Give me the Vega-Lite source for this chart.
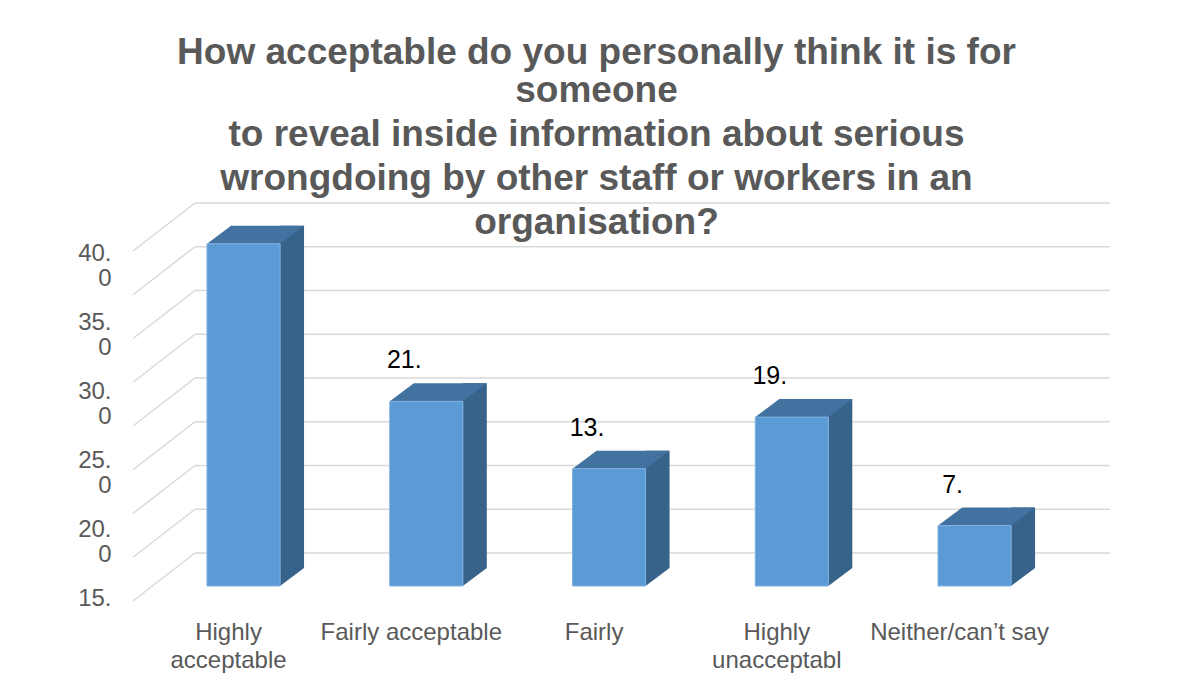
{
  "$schema": "https://vega.github.io/schema/vega-lite/v6.json",
  "width": 977,
  "height": 428,
  "autosize": {"type": "none"},
  "padding": {"left": 133, "top": 186, "right": 69, "bottom": 77},
  "background": "white",
  "config": {"view": {"stroke": null}, "font": "Liberation Sans"},
  "title": {
    "text": ["How acceptable do you personally think it is for", "someone"],
    "subtitle": ["to reveal inside information about serious", "wrongdoing by other staff or workers in an", "organisation?"],
    "anchor": "middle",
    "frame": "group",
    "offset": -56,
    "dx": -25,
    "font": "Liberation Sans",
    "fontSize": 37,
    "fontWeight": "bold",
    "color": "#595959",
    "lineHeight": 38,
    "subtitleFont": "Liberation Sans",
    "subtitleFontSize": 37,
    "subtitleFontWeight": "bold",
    "subtitleColor": "#595959",
    "subtitleLineHeight": 44,
    "subtitlePadding": 7
  },
  "datasets": {
    "bars": [
      {"category": "Highly acceptable", "value": 39.1, "label": ""},
      {"category": "Fairly acceptable", "value": 21.1, "label": "21."},
      {"category": "Fairly", "value": 13.4, "label": "13."},
      {"category": "Highly unacceptabl", "value": 19.3, "label": "19."},
      {"category": "Neither/can’t say", "value": 6.9, "label": "7."}
    ],
    "grid": [{"t": 0}, {"t": 5}, {"t": 10}, {"t": 15}, {"t": 20}, {"t": 25}, {"t": 30}, {"t": 35}, {"t": 40}],
    "ylab": [{"t": 40}, {"t": 35}, {"t": 30}, {"t": 25}, {"t": 20}, {"t": 15}]
  },
  "layer": [
    {
      "data": {"name": "grid"},
      "layer": [
        {
          "mark": {"type": "rule", "color": "#D9D9D9", "strokeWidth": 1.5},
          "encoding": {
            "y": {"field": "t", "type": "quantitative", "scale": {"domain": [-6.971, 41.943], "nice": false, "zero": false}, "axis": null},
            "x": {"value": 62},
            "x2": {"value": 977}
          }
        },
        {
          "mark": {"type": "rule", "color": "#D9D9D9", "strokeWidth": 1.5, "yOffset": 48},
          "encoding": {
            "y": {"field": "t", "type": "quantitative", "scale": {"domain": [-6.971, 41.943], "nice": false, "zero": false}, "axis": null},
            "y2": {"field": "t"},
            "x": {"value": 0},
            "x2": {"value": 62}
          }
        }
      ]
    },
    {
      "data": {"name": "ylab"},
      "mark": {"type": "point", "opacity": 0, "size": 0},
      "encoding": {
        "y": {
          "field": "t",
          "type": "quantitative",
          "scale": {"domain": [13.841, 44.855], "nice": false, "zero": false},
          "axis": {
            "orient": "left",
            "title": null,
            "values": [40, 35, 30, 25, 20, 15],
            "labelExpr": "datum.value == 15 ? '15.' : [toString(datum.value) + '.', '0']",
            "labelFontSize": 24,
            "labelColor": "#595959",
            "labelLineHeight": 25,
            "labelPadding": 22,
            "ticks": false,
            "tickSize": 0,
            "domain": false,
            "grid": false,
            "labelBaseline": "middle",
            "labelAlign": "right"
          }
        }
      }
    },
    {
      "data": {"name": "bars"},
      "encoding": {
        "x": {
          "field": "category",
          "type": "nominal",
          "sort": null,
          "scale": {"paddingInner": 0.6, "paddingOuter": 0.473, "align": 0.428},
          "axis": {
            "title": null,
            "labelExpr": "indexof(datum.label, 'Highly ') == 0 ? split(datum.label, ' ') : datum.label",
            "labelFontSize": 24,
            "labelColor": "#595959",
            "labelLineHeight": 28,
            "labelPadding": 6,
            "labelOffset": -15,
            "ticks": false,
            "tickSize": 0,
            "domain": false,
            "grid": false,
            "labelAngle": 0,
            "labelLimit": 400,
            "labelOverlap": false,
            "labelBaseline": "top"
          }
        }
      },
      "layer": [
        {
          "mark": {"type": "bar", "width": 24, "xOffset": 48.5, "yOffset": -18, "y2Offset": -18, "color": "#37638B"},
          "encoding": {
            "y": {"field": "value", "type": "quantitative", "scale": {"domain": [-3.2, 45.714], "nice": false, "zero": false}, "axis": null},
            "y2": {"datum": 0}
          }
        },
        {
          "mark": {"type": "point", "shape": "M 36.5 0 L 36.5 -18 L 60.5 -18 Z", "size": 4, "filled": true, "color": "#37638B", "opacity": 1, "strokeWidth": 0},
          "encoding": {
            "y": {"datum": 0}
          }
        },
        {
          "mark": {"type": "point", "shape": "M -36.5 0 L 36.5 0 L 60.5 -18 L -12.5 -18 Z", "size": 4, "filled": true, "color": "#42729F", "opacity": 1, "strokeWidth": 0},
          "encoding": {
            "y": {"field": "value", "type": "quantitative"}
          }
        },
        {
          "mark": {"type": "bar", "color": "#5B9BD5", "stroke": "#82B0E0", "strokeWidth": 1},
          "encoding": {
            "y": {"field": "value", "type": "quantitative"},
            "y2": {"datum": 0}
          }
        },
        {
          "mark": {"type": "text", "dx": -22, "dy": -33, "baseline": "alphabetic", "fontSize": 25, "color": "black", "font": "Liberation Sans"},
          "encoding": {
            "y": {"field": "value", "type": "quantitative"},
            "text": {"field": "label"}
          }
        }
      ]
    }
  ],
  "resolve": {"scale": {"y": "independent"}, "axis": {"y": "independent"}}
}
